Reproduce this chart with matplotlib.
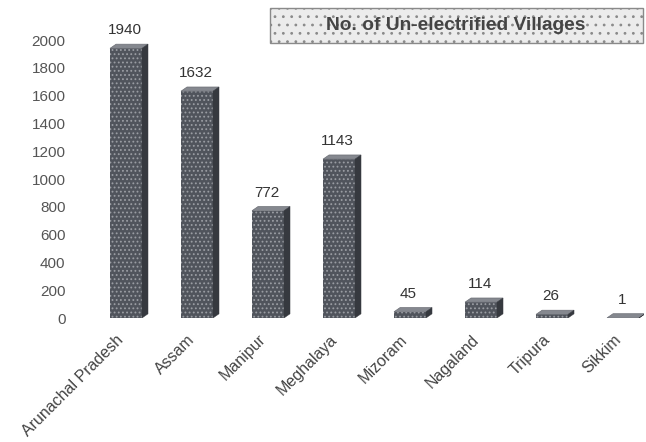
import matplotlib
matplotlib.use("Agg")
import matplotlib.pyplot as plt
from matplotlib.patches import Polygon, Rectangle
from matplotlib.transforms import ScaledTranslation

states = ["Arunachal Pradesh", "Assam", "Manipur", "Meghalaya",
          "Mizoram", "Nagaland", "Tripura", "Sikkim"]
villages = [1940, 1632, 772, 1143, 45, 114, 26, 1]
yticks = [0, 200, 400, 600, 800, 1000, 1200, 1400, 1600, 1800, 2000]
legend_title = "No. of Un-electrified Villages"

plt.rcParams['font.family'] = ['Liberation Sans', 'DejaVu Sans']
plt.rcParams['hatch.linewidth'] = 0.8

fig = plt.figure(figsize=(6.46, 4.42), dpi=100)
ax = fig.add_axes([0.1401, 0.2805, 0.8573, 0.6604])

x = list(range(len(states)))
width = 0.45
depth_x = 0.085   # 3D depth, axis units
depth_y = 30

front = '#50545c'
side = '#36393f'
top = '#85888f'

bars = ax.bar(x, villages, width=width, color=front, edgecolor='#9a9da3',
              linewidth=0, hatch='....', zorder=3)
for b, v in zip(bars, villages):
    x0 = b.get_x()
    x1 = x0 + b.get_width()
    # top face
    ax.add_patch(Polygon([(x0, v), (x1, v), (x1 + depth_x, v + depth_y),
                          (x0 + depth_x, v + depth_y)], closed=True,
                         facecolor=top, edgecolor='#6c6f76', lw=0.5, zorder=4))
    # side face
    ax.add_patch(Polygon([(x1, 0), (x1 + depth_x, depth_y),
                          (x1 + depth_x, v + depth_y), (x1, v)], closed=True,
                         facecolor=side, edgecolor=side, lw=0.3, zorder=4))
    ax.annotate(f"{v}", xy=(b.get_x() + b.get_width() / 2, v + depth_y),
                xytext=(-1, 5), textcoords='offset points',
                ha='center', va='bottom', fontsize=11, color='#333333')

ax.set_xlim(-0.5, 7.3)
ax.set_ylim(0, 2100)
ax.set_yticks(yticks)
ax.set_yticklabels([str(t) for t in yticks], fontsize=11, color='#555555')
ax.set_xticks(x)
ax.set_xticklabels(states, rotation=45, ha='right', va='top',
                   rotation_mode='anchor', fontsize=11.5, color='#444444')
ax.tick_params(axis='y', length=0, pad=18)
ax.tick_params(axis='x', length=0, pad=10)
for lab in ax.get_xticklabels():
    lab.set_transform(lab.get_transform() +
                      ScaledTranslation(-10 / 100, 0, fig.dpi_scale_trans))
for s in ax.spines.values():
    s.set_visible(False)
ax.set_facecolor('white')

# legend box
W, H = 646, 442
fig.patches.append(Rectangle((270 / W, (H - 43) / H), 373 / W, 35 / H,
                             transform=fig.transFigure, facecolor='#ececec',
                             edgecolor='#8a8a8a', lw=1.0, hatch='..',
                             zorder=1))
fig.text(456 / W, (H - 25) / H, legend_title, ha='center', va='center',
         fontsize=13.8, fontweight='bold', color='#444444', zorder=5)

fig.savefig("out.png", dpi=100)
